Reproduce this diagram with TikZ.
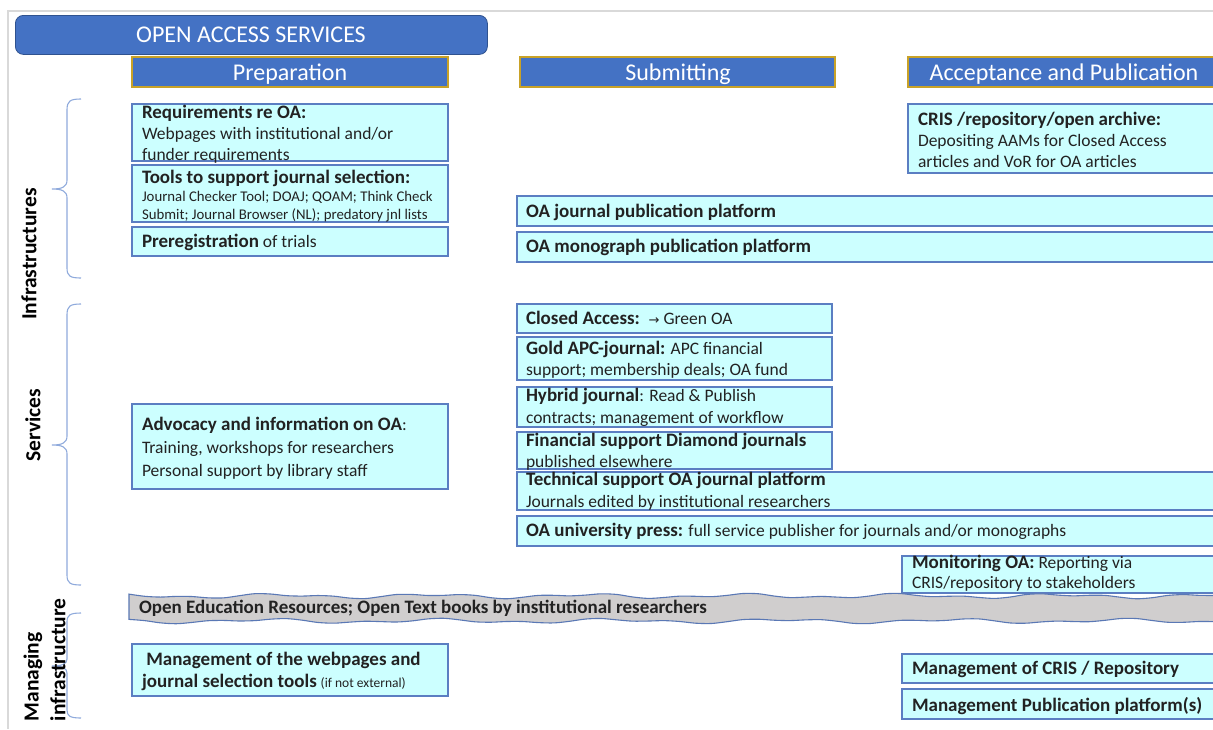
\documentclass[tikz,border=0pt]{standalone}
\usepackage{fontspec}
\setmainfont{Carlito}
\newfontfamily\symfont{DejaVu Sans}
\newcommand\bsf[1]{{\fontsize{19}{21}\selectfont\bfseries #1}}
\definecolor{hdrblue}{HTML}{4472C4}
\definecolor{hdrline}{HTML}{2F528F}
\definecolor{gold}{HTML}{C9A227}
\definecolor{boxfill}{HTML}{CCFFFF}
\definecolor{boxline}{HTML}{5B7EC2}
\definecolor{bracecol}{HTML}{8FAADC}
\definecolor{framegray}{HTML}{D9D9D9}
\definecolor{bandfill}{HTML}{D0CECE}
\definecolor{bandline}{HTML}{5A78B5}
\definecolor{txtcol}{HTML}{222222}
\tikzset{
  cbox/.style={draw=boxline, fill=boxfill, line width=1.1pt, inner sep=0pt, outer sep=0pt, anchor=north west},
  txt/.style={inner sep=0pt, outer sep=0pt, anchor=base west, align=left, text=txtcol, font=\fontsize{17.5}{21}\selectfont},
  smalltxt/.style={txt, font=\fontsize{14.8}{18}\selectfont},
  hdr/.style={draw=gold, fill=hdrblue, line width=1.2pt, inner sep=0pt, outer sep=0pt, anchor=north west},
  hdrtxt/.style={inner sep=0pt, text=white, font=\fontsize{24}{28}\selectfont},
  sidelab/.style={inner sep=0pt, rotate=90, text=black, font=\bfseries\fontsize{21.5}{24}\selectfont},
  bracepath/.style={draw=bracecol, line width=1.1pt},
}
\begin{document}
\begin{tikzpicture}[x=1pt,y=-1pt]
\useasboundingbox (0,0) rectangle (1213,729);
\fill[white] (0,0) rectangle (1213,729);
% frame
\draw[framegray, line width=1.6pt] (1213,11) -- (8,11) -- (8,729);
% title
\node[draw=hdrline, fill=hdrblue, line width=0.8pt, rounded corners=8pt, minimum width=472pt, minimum height=39pt, anchor=north west, inner sep=0pt] (title) at (15,15) {};
\node[hdrtxt] (titlet) at (251,35) {OPEN ACCESS SERVICES};
% column headers
\node[hdr, minimum width=316pt, minimum height=30pt] (hprep) at (132,57) {};
\node[hdrtxt, anchor=base] (hprept) at (290,80) {Preparation};
\node[hdr, minimum width=315pt, minimum height=30pt] (hsub) at (520,57) {};
\node[hdrtxt, anchor=base] (hsubt) at (678,80) {Submitting};
\node[hdr, minimum width=320pt, minimum height=30pt] (hacc) at (908,57) {};
\node[hdrtxt, anchor=base] (hacct) at (1064,80) {Acceptance and Publication};
% braces
\draw[bracepath] (81,99) .. controls (70,99) and (67,101) .. (67,110) -- (67,180) .. controls (67,187) and (62,189) .. (52,189)
  (52,189) .. controls (62,189) and (67,191) .. (67,198) -- (67,268) .. controls (67,276) and (70,278) .. (81,278);
\draw[bracepath] (81,304) .. controls (70,304) and (67,306) .. (67,315) -- (67,436) .. controls (67,443) and (62,445) .. (52,445)
  (52,445) .. controls (62,445) and (67,447) .. (67,454) -- (67,575) .. controls (67,583) and (70,585) .. (81,585);
\draw[bracepath] (81,613) .. controls (70,613) and (67,615) .. (67,622) -- (67,659) .. controls (67,664) and (62,666) .. (52,666)
  (52,666) .. controls (62,666) and (67,668) .. (67,673) -- (67,710) .. controls (67,716) and (70,718) .. (81,718);
\node[sidelab] (linfra) at (29,254) {Infrastructures};
\node[sidelab] (lserv) at (33,425) {Services};
\node[sidelab] (lmanag) at (33,677) {Managing};
\node[sidelab] (linfra2) at (58,660) {infrastructure};
% Preparation column
\node[cbox, minimum width=316pt, minimum height=57pt] (req) at (132,104) {};
\node[txt] (reqt) at (142,160) {\bsf{Requirements re OA:}\\Webpages with institutional and/or\\funder requirements};
\node[cbox, minimum width=316pt, minimum height=57pt] (tools) at (132,165) {};
\node[txt] (toolsh) at (142,183) {\bsf{Tools to support journal selection:}};
\node[smalltxt] (toolst) at (142,219) {Journal Checker Tool; DOAJ; QOAM; Think Check\\Submit; Journal Browser (NL); predatory jnl lists};
\node[cbox, minimum width=316pt, minimum height=29pt] (prereg) at (132,227) {};
\node[txt] (preregt) at (142,247) {\bsf{Preregistration} of trials};
\node[cbox, minimum width=316pt, minimum height=85pt] (adv) at (132,404) {};
\node[txt, font=\fontsize{17.5}{23}\selectfont] (advt) at (142,476) {\bsf{Advocacy and information on OA}:\\Training, workshops for researchers\\Personal support by library staff};
% Acceptance column
\node[cbox, minimum width=312pt, minimum height=69pt] (cris) at (908,104) {};
\node[txt] (crist) at (918,167) {\bsf{CRIS /repository/open archive:}\\Depositing AAMs for Closed Access\\articles and VoR for OA articles};
% platforms
\node[cbox, minimum width=703pt, minimum height=30pt] (ojp) at (517,196) {};
\node[txt] (ojpt) at (526,217) {\bsf{OA journal publication platform}};
\node[cbox, minimum width=703pt, minimum height=30pt] (omp) at (517,232) {};
\node[txt] (ompt) at (526,252) {\bsf{OA monograph publication platform}};
% Submitting services
\node[cbox, minimum width=315pt, minimum height=29pt] (closed) at (517,304) {};
\node[txt] (closedt) at (526,324) {\bsf{Closed Access:}\enspace{\symfont\fontsize{13}{13}\selectfont →} Green OA};
\node[cbox, minimum width=315pt, minimum height=43pt] (gold) at (517,337) {};
\node[txt] (goldt) at (526,375) {\bsf{Gold APC-journal:} APC financial\\support; membership deals; OA fund};
\node[cbox, minimum width=315pt, minimum height=40pt] (hybrid) at (517,387) {};
\node[txt, font=\fontsize{17.5}{22}\selectfont] (hybridt) at (526,423) {\bsf{Hybrid journal}: Read \& Publish\\contracts; management of workflow};
\node[cbox, minimum width=315pt, minimum height=37pt] (fin) at (517,432) {};
\node[txt] (fint) at (526,467) {\bsf{Financial support Diamond journals}\\published elsewhere};
\node[cbox, minimum width=703pt, minimum height=38pt] (tech) at (517,472) {};
\node[txt, font=\fontsize{17.5}{22}\selectfont] (techt) at (526,507) {\bsf{Technical support OA journal platform}\\Journals edited by institutional researchers};
\node[cbox, minimum width=703pt, minimum height=30pt] (press) at (517,516) {};
\node[txt] (presst) at (526,536) {\bsf{OA university press:} full service publisher for journals and/or monographs};
\node[cbox, minimum width=318pt, minimum height=37pt] (mon) at (902,556) {};
\node[txt, font=\fontsize{17.5}{20}\selectfont] (mont) at (912,588) {\bsf{Monitoring OA:} Reporting via\\CRIS/repository to stakeholders};
% wavy band
\path[fill=bandfill, draw=bandline, line width=1.1pt]
  plot[smooth, samples=70, domain=129:1215] (\x,{596+1.6*sin(\x*2.3)+1.2*sin(\x*5.1+40)})
  -- plot[smooth, samples=70, domain=1215:129] (\x,{621+1.6*sin(\x*2.1+70)+1.2*sin(\x*4.7)}) -- cycle;
\node[txt] (bandt) at (139,613) {\bsf{Open Education Resources; Open Text books by institutional researchers}};
% management
\node[cbox, minimum width=316pt, minimum height=52pt] (mweb) at (132,644) {};
\node[txt, font=\fontsize{17.5}{22}\selectfont] (mwebt) at (142,687) {\bsf{\ Management of the webpages and}\\\bsf{journal selection tools} {\fontsize{13.5}{14}\selectfont (if not external)}};
\node[cbox, minimum width=318pt, minimum height=29pt] (mcris) at (902,654) {};
\node[txt] (mcrist) at (912,674) {\bsf{Management of CRIS / Repository}};
\node[cbox, minimum width=318pt, minimum height=30pt] (mpub) at (902,689) {};
\node[txt] (mpubt) at (912,711) {\bsf{Management Publication platform(s)}};
\end{tikzpicture}
\end{document}
